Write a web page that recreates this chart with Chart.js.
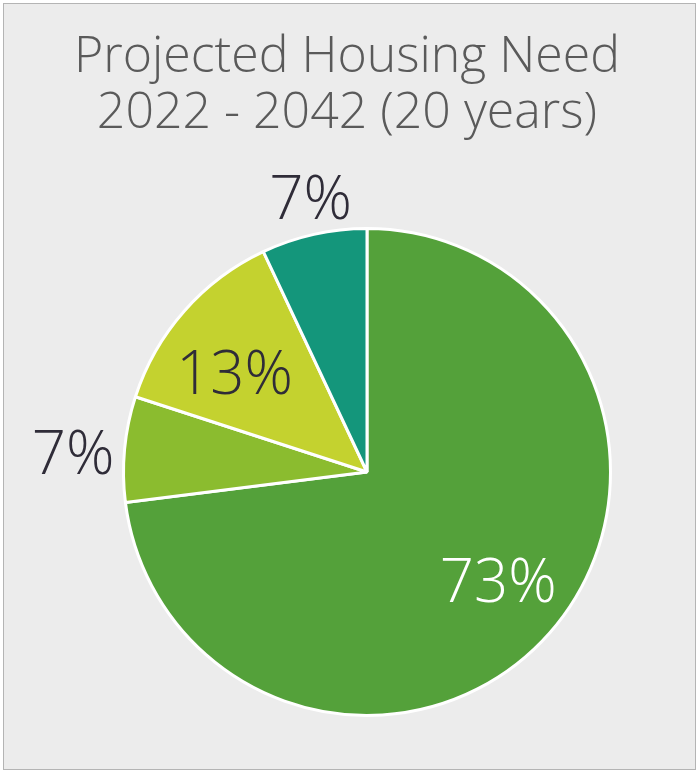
<!DOCTYPE html>
<html>
<head>
<meta charset="utf-8">
<script src="https://cdn.jsdelivr.net/npm/chart.js@4"></script>
<style>
  html, body { margin: 0; padding: 0; background: #fff; }
  #wrap { position: relative; width: 700px; height: 773px; }
  #frame {
    position: absolute; left: 3px; top: 3px; width: 693px; height: 767px;
    border: 1px solid #b4b4b4; background: #ececec; box-sizing: border-box;
  }
  #title {
    position: absolute; left: 0; top: 25px; width: 694px; text-align: center;
    font-family: 'Open Sans', sans-serif; font-weight: 300; font-size: 50px;
    line-height: 56px; color: #5a5a5a;
  }
  canvas { position: absolute; left: 0; top: 0; }
</style>
</head>
<body>
<div id="wrap">
  <div id="frame"></div>
  <div id="title">Projected Housing Need<br>2022 - 2042 (20 years)</div>
  <canvas id="c" width="700" height="773"></canvas>
</div>
<script>
// Housing need split, clockwise from 12 o'clock
const categories = ["Share A", "Share B", "Share C", "Share D"];
const shares = [73, 7, 13, 7];
const colors = ["#54a13a", "#8bbc2f", "#c4d22f", "#14967b"];
const labelColors = ["#ffffff", "#2f2c38", "#2f2c38", "#2f2c38"];
// label placement: distance from centre (fraction of radius) and a small angle nudge (deg)
const labelRadius = [0.70, 1.21, 0.68, 1.15];
const labelNudge = [-1.7, -1.7, -4.5, 1];

const FONT = "'Open Sans', sans-serif";
const LABEL_SIZE = 60;

// draws the "73%" etc. labels at each arc's mid-angle
const sliceLabels = {
  id: "sliceLabels",
  afterDatasetsDraw(chart) {
    const ctx = chart.ctx;
    const meta = chart.getDatasetMeta(0);
    ctx.save();
    ctx.font = "300 " + LABEL_SIZE + "px " + FONT;
    ctx.textAlign = "center";
    ctx.textBaseline = "alphabetic";
    meta.data.forEach((arc, i) => {
      const p = arc.getProps(["x", "y", "startAngle", "endAngle", "outerRadius"], true);
      const mid = (p.startAngle + p.endAngle) / 2 + labelNudge[i] * Math.PI / 180;
      const r = p.outerRadius * labelRadius[i];
      ctx.fillStyle = labelColors[i];
      ctx.fillText(shares[i] + "%", p.x + Math.cos(mid) * r,
        p.y + Math.sin(mid) * r + LABEL_SIZE * 0.357);
    });
    ctx.restore();
  },
};

new Chart(document.getElementById("c"), {
  type: "pie",
  data: {
    labels: categories,
    datasets: [{
      data: shares,
      backgroundColor: colors,
      borderColor: "#ffffff",
      borderWidth: 3,
    }],
  },
  options: {
    responsive: false,
    animation: false,
    layout: { padding: { left: 122, right: 88, top: 227, bottom: 56 } },
    plugins: {
      legend: { display: false },
      tooltip: { enabled: false },
    },
  },
  plugins: [sliceLabels],
});
</script>
</body>
</html>
